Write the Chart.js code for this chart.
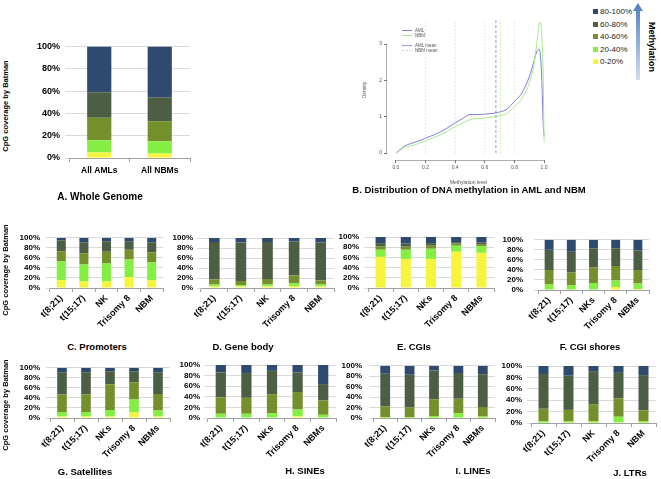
<!DOCTYPE html>
<html><head>
<meta charset="utf-8">
<title>Batman methylation</title>
<script src="https://cdn.jsdelivr.net/npm/chart.js@4"></script>
<style>
body{margin:0;width:661px;height:479px;position:relative;overflow:hidden;background:#fff;font-family:"Liberation Sans",Arial,sans-serif}
canvas{position:absolute}
.lab{position:absolute;white-space:nowrap;line-height:1;transform:translate(-50%,-50%);font-weight:bold;color:#000}
.vt{position:absolute;white-space:nowrap;line-height:1;font-weight:bold;font-size:7.5px;transform:translate(-50%,-50%) rotate(-90deg)}
.lg{position:absolute;font-size:8px;line-height:1;color:#222}
.lg i{display:inline-block;width:5px;height:5px;margin-right:2px;vertical-align:0}
.bl{position:absolute;font-size:4.5px;line-height:1;color:#555}
.bl span{display:inline-block;width:10px;height:0;vertical-align:1px;margin-right:3px}
</style>
</head><body>

<script>
// methylation classes, bottom of the stack first
const levels = ['0-20%', '20-40%', '40-60%', '60-80%', '80-100%'];
const levelColors = ['#f7f43e', '#84ef42', '#73902c', '#4c5e43', '#2f4a6f'];

const genomeCats = ['All AMLs', 'All NBMs'];
const genome = [[5, 4], [11, 11], [20, 18], [23, 21.5], [41, 45.5]];

const catsShort = ['t(8;21)', 't(15;17)', 'NK', 'Trisomy 8', 'NBM'];
const catsPlural = ['t(8;21)', 't(15;17)', 'NKs', 'Trisomy 8', 'NBMs'];

// each row = one methylation class across the five groups
const promoters = [[16, 13, 13, 22, 16], [37, 34, 36, 35, 35], [20, 22, 23, 19, 20], [22, 22, 21, 17, 20], [5, 9, 7, 7, 9]];
const geneBody = [[3, 3, 3, 4, 3], [4, 3, 4, 5, 4], [10, 8, 11, 16, 8], [75, 77, 74, 68, 76], [8, 9, 8, 7, 9]];
const cgis = [[61, 57, 57, 71, 69], [14, 18, 20, 12, 13], [7, 6, 6, 4, 4], [6, 6, 5, 3, 3], [12, 13, 12, 10, 11]];
const cgiShores = [[1, 1, 1, 6, 2], [10, 9, 13, 13, 11], [29, 25, 31, 29, 27], [40, 41, 38, 35, 39], [20, 24, 17, 17, 21]];
const satellites = [[3, 3, 3, 11, 3], [9, 9, 13, 26, 12], [35, 35, 51, 34, 33], [44, 44, 26, 22, 43], [9, 9, 7, 7, 9]];
const sines = [[1, 1, 1, 3, 1], [7, 7, 8, 13, 5], [31, 30, 36, 33, 27], [47, 47, 44, 37, 31], [14, 15, 11, 14, 36]];
const lines = [[0.5, 0.5, 0.5, 1, 0.5], [1.5, 1.5, 3.5, 8, 2.5], [20, 18, 32, 28, 18], [63, 63, 55, 49, 63], [15, 17, 9, 14, 16]];
const ltrs = [[0.5, 0.5, 0.5, 1, 0.5], [2.5, 2.5, 2.5, 10, 2.5], [22, 20, 30, 32, 19], [61, 60, 58, 45, 62], [14, 17, 9, 12, 16]];

// density of methylation level (panel B)
const methLevel = [0, 0.03, 0.06, 0.1, 0.15, 0.2, 0.25, 0.3, 0.35, 0.4, 0.45, 0.5, 0.55, 0.6, 0.65, 0.7, 0.75, 0.8, 0.85, 0.9, 0.93, 0.95, 0.965, 0.975, 0.985, 0.993, 1.0];
const amlDensity = [0, 0.1, 0.2, 0.26, 0.33, 0.41, 0.49, 0.58, 0.7, 0.83, 0.95, 1.06, 1.06, 1.07, 1.09, 1.13, 1.21, 1.42, 1.65, 2.1, 2.5, 2.78, 2.86, 2.7, 2.0, 0.92, 0.46];
const nbmDensity = [0, 0.08, 0.16, 0.19, 0.26, 0.34, 0.42, 0.5, 0.61, 0.73, 0.83, 0.92, 0.95, 0.96, 0.99, 1.03, 1.09, 1.28, 1.5, 1.93, 2.4, 3.0, 3.5, 3.6, 3.2, 2.29, 0.3];
const amlMean = 0.675;
const nbmMean = 0.705;
const refLines = [0.2, 0.4, 0.6, 0.8];
const densXTicks = [0, 0.2, 0.4, 0.6, 0.8, 1.0];
const densYTicks = [0, 1, 2, 3];

const FONT = '"Liberation Sans", Arial, sans-serif';

function addText(cls, text, x, y, size) {
  const d = document.createElement('div');
  d.className = cls;
  d.textContent = text;
  d.style.left = x + 'px';
  d.style.top = y + 'px';
  if (size) d.style.fontSize = size + 'px';
  document.body.appendChild(d);
  return d;
}

function makeCanvas(left, top, w, h) {
  const cv = document.createElement('canvas');
  cv.width = w; cv.height = h;
  cv.style.left = left + 'px'; cv.style.top = top + 'px';
  cv.style.width = w + 'px'; cv.style.height = h + 'px';
  document.body.appendChild(cv);
  return cv;
}

// stacked 100% bar panel; box = chart area in page pixels
function barPanel(cats, rows, box, gap, rotate, fs) {
  const yW = 50, padT = 10, padR = 5, xH = 50;
  const cv = makeCanvas(box.l - yW, box.t - padT, box.r - box.l + yW + padR, box.b - box.t + padT + xH);
  new Chart(cv, {
    type: 'bar',
    data: {
      labels: cats,
      datasets: rows.map((r, i) => ({
        label: levels[i], data: r, backgroundColor: levelColors[i],
        barPercentage: 0.4, categoryPercentage: 1
      }))
    },
    options: {
      responsive: false, animation: false,
      layout: { padding: { top: padT, right: padR, left: 0, bottom: 0 } },
      plugins: { legend: { display: false }, tooltip: { enabled: false } },
      scales: {
        x: {
          stacked: true,
          afterFit: s => { s.height = xH; },
          grid: { drawOnChartArea: false, tickLength: 4, color: '#a0a0a0', offset: true },
          border: { color: '#a0a0a0' },
          ticks: {
            autoSkip: false,
            minRotation: rotate, maxRotation: rotate, padding: rotate ? 1 : 4, color: '#000',
            font: { family: FONT, size: fs.x, weight: 'bold' }
          }
        },
        y: {
          stacked: true, min: 0, max: 100,
          afterFit: s => { s.width = yW; },
          grid: { color: '#d9d9d9', tickLength: 4 },
          border: { display: false },
          ticks: {
            autoSkip: false,
            stepSize: 20, padding: gap - 4, color: '#000',
            callback: v => v + '%',
            font: { family: FONT, size: fs.y, weight: 'bold' }
          }
        }
      }
    }
  });
}

// R style axis lines that run only from first to last tick
const rAxes = {
  id: 'rAxes',
  afterDraw(chart) {
    const { ctx, scales: { x, y } } = chart;
    ctx.save();
    ctx.strokeStyle = '#777'; ctx.lineWidth = 0.6;
    ctx.beginPath();
    ctx.moveTo(x.getPixelForValue(densXTicks[0]), x.top + 0.5);
    ctx.lineTo(x.getPixelForValue(densXTicks[densXTicks.length - 1]), x.top + 0.5);
    ctx.moveTo(y.right - 0.5, y.getPixelForValue(densYTicks[0]));
    ctx.lineTo(y.right - 0.5, y.getPixelForValue(densYTicks[densYTicks.length - 1]));
    ctx.stroke();
    ctx.restore();
  }
};

function densityPanel() {
  const box = { l: 387, t: 20, r: 550, b: 160 };
  const yW = 27, padT = 10, padR = 10, xH = 30;
  const cv = makeCanvas(box.l - yW, box.t - padT, box.r - box.l + yW + padR, box.b - box.t + padT + xH);
  const yTop = 3.66;
  const vline = (v, color, dash, w) => ({
    data: [{ x: v, y: 0 }, { x: v, y: yTop }], borderColor: color, borderDash: dash,
    borderWidth: w, pointRadius: 0, fill: false
  });
  new Chart(cv, {
    type: 'line',
    data: {
      datasets: [
        ...refLines.map(v => vline(v, '#d8d8d8', [1.5, 2], 0.8)),
        vline(amlMean, '#9a86d8', [3, 2], 0.9),
        vline(nbmMean, '#b8e8a0', [1.5, 1.5], 0.9),
        { data: nbmDensity.map((d, i) => ({ x: methLevel[i], y: d })), borderColor: '#a6ea8c', borderWidth: 1, pointRadius: 0, tension: 0.3, cubicInterpolationMode: 'monotone' },
        { data: amlDensity.map((d, i) => ({ x: methLevel[i], y: d })), borderColor: '#7d7fd4', borderWidth: 1, pointRadius: 0, tension: 0.3, cubicInterpolationMode: 'monotone' }
      ]
    },
    options: {
      responsive: false, animation: false,
      layout: { padding: { top: padT, right: padR, left: 0, bottom: 0 } },
      plugins: { legend: { display: false }, tooltip: { enabled: false } },
      scales: {
        x: {
          type: 'linear', min: -0.06, max: 1.04,
          afterBuildTicks: s => { s.ticks = densXTicks.map(v => ({ value: v })); },
          afterFit: s => { s.height = xH; },
          grid: { drawOnChartArea: false, tickLength: 3, color: '#777' },
          border: { display: false },
          title: { display: true, text: 'Methylation level', color: '#555', font: { family: FONT, size: 5 }, padding: { top: 3 } },
          ticks: { autoSkip: false, color: '#555', padding: 2, font: { family: FONT, size: 5 }, callback: v => v.toFixed(1) }
        },
        y: {
          min: -0.19, max: yTop,
          afterBuildTicks: s => { s.ticks = densYTicks.map(v => ({ value: v })); },
          afterFit: s => { s.width = yW; },
          grid: { drawOnChartArea: false, tickLength: 3, color: '#777' },
          border: { display: false },
          title: { display: true, text: 'Density', color: '#555', font: { family: FONT, size: 5 }, padding: 2 },
          ticks: { autoSkip: false, color: '#555', padding: 2, font: { family: FONT, size: 5 } }
        }
      }
    },
    plugins: [rAxes]
  });
}

barPanel(genomeCats, genome, { l: 69, t: 46, r: 190, b: 158 }, 9, 0, { x: 8.5, y: 9 });
densityPanel();
const fsRow = { x: 9, y: 8 };
barPanel(catsShort, promoters, { l: 50, t: 237, r: 163, b: 288 }, 10, 45, fsRow);
barPanel(catsShort, geneBody, { l: 201, t: 238, r: 334, b: 288 }, 8, 45, fsRow);
barPanel(catsPlural, cgis, { l: 368, t: 237, r: 494, b: 288 }, 9, 45, fsRow);
barPanel(catsPlural, cgiShores, { l: 538, t: 234, r: 649, b: 290 }, 15, 45, fsRow);
barPanel(catsPlural, satellites, { l: 50, t: 367, r: 170, b: 418 }, 10, 45, fsRow);
barPanel(catsPlural, sines, { l: 208, t: 365, r: 336, b: 418 }, 8, 45, fsRow);
barPanel(catsPlural, lines, { l: 373, t: 364, r: 495, b: 418 }, 11, 45, fsRow);
barPanel(catsShort, ltrs, { l: 531, t: 366, r: 656, b: 423 }, 9, 45, fsRow);

// panel titles
addText('lab', 'A. Whole Genome', 100, 197, 10);
addText('lab', 'B. Distribution of DNA methylation in AML and NBM', 469, 190, 9.5);
addText('lab', 'C. Promoters', 97, 347, 9.5);
addText('lab', 'D. Gene body', 243, 347, 9.5);
addText('lab', 'E. CGIs', 414, 347, 9.5);
addText('lab', 'F. CGI shores', 590, 347, 9.5);
addText('lab', 'G. Satellites', 85, 472, 9.5);
addText('lab', 'H. SINEs', 305, 471, 9.5);
addText('lab', 'I. LINEs', 473, 471, 9.5);
addText('lab', 'J. LTRs', 630, 473, 9.5);
addText('vt', 'CpG coverage by Batman', 6, 106);
addText('vt', 'CpG coverage by Batman', 6, 270);
addText('vt', 'CpG coverage by Batman', 6, 405);

// methylation legend, top entry = highest class
levels.slice().reverse().forEach((lv, i) => {
  const d = addText('lg', '', 593, 8 + i * 12.5);
  const sw = document.createElement('i');
  sw.style.background = levelColors[levels.length - 1 - i];
  d.appendChild(sw);
  d.appendChild(document.createTextNode(lv));
});
const m = addText('lab', 'Methylation', 651, 47, 9);
m.style.transform = 'translate(-50%,-50%) rotate(90deg)';

// legend of panel B
[['AML', 'solid', '#7d7fd4'], ['NBM', 'solid', '#a6ea8c'], ['AML mean', 'dashed', '#9a86d8'], ['NBM mean', 'dotted', '#b8e8a0']].forEach((e, i) => {
  const d = addText('bl', '', 402, 29 + i * 5 + (i > 1 ? 5 : 0));
  const s = document.createElement('span');
  s.style.borderTop = '1px ' + e[1] + ' ' + e[2];
  d.appendChild(s);
  d.appendChild(document.createTextNode(e[0]));
});
</script>
<svg style="position:absolute;left:631px;top:2px" width="14" height="80">
  <defs><linearGradient id="ag" x1="0" y1="1" x2="0" y2="0">
    <stop offset="0" stop-color="#d3deef"/><stop offset="1" stop-color="#4f7fc0"/>
  </linearGradient></defs>
  <path d="M5,78 L9,78 L9,9 L12,9 L7,1 L2,9 L5,9 Z" fill="url(#ag)"/>
</svg>
</body></html>
